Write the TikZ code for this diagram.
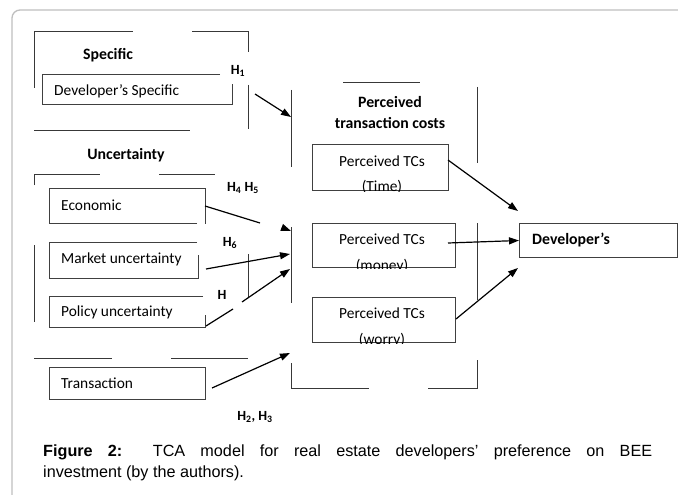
\documentclass[tikz,border=0pt]{standalone}
\usepackage{fontspec}
\setmainfont{Carlito}
\newfontfamily\capfont{Liberation Sans}
\usetikzlibrary{arrows.meta}
\begin{document}
\begin{tikzpicture}[x=1pt,y=-1pt,
  frame/.style={draw=black!78, line width=1pt},
  boxline/.style={draw=black!75, line width=1pt},
  arr/.style={draw=black, line width=1.2pt, -{Triangle[length=10pt,width=7pt]}},
  plain/.style={draw=black, line width=1.2pt},
  lbl/.style={font=\fontsize{15.4}{18}\selectfont, inner sep=0pt},
  hdr/.style={font=\bfseries\fontsize{15.8}{18}\selectfont, inner sep=0pt},
  hyp/.style={font=\bfseries\fontsize{14}{16}\selectfont, inner sep=0pt},
]
\useasboundingbox (0,0) rectangle (678,495);
\fill[white] (0,0) rectangle (678,495);
% outer frame
\draw[draw=black!25, line width=1.3pt, rounded corners=8pt] (12,520) -- (12,10) -- (700,10);

% ---- Specific group
\draw[frame] (34,88) -- (34,32) -- (133,32);
\draw[frame] (192,32) -- (248,32) -- (248,52);
\draw[frame] (248,85) -- (248,129);
\draw[frame] (34,130) -- (190,130);
\node[hdr] (spech) at (108,55) {Specific};
\draw[boxline] (220,75) -- (42,75) -- (42,105) -- (232,105) -- (232,84);
\node[lbl, anchor=west] (devspec) at (54,91) {Developer’s Specific};
\node[hyp] (h1) at (238,71) {H\textsubscript{1}};

% ---- Uncertainty group
\node[hdr] (unch) at (126,155) {Uncertainty};
\draw[frame] (34,185) -- (34,174) -- (100,174);
\draw[frame] (159,174) -- (215,174);
\node[hyp] (h45) at (243,188) {H\textsubscript{4} H\textsubscript{5}};
\draw[boxline] (197,223) -- (49,223) -- (49,188) -- (205,188) -- (205,224);
\node[lbl, anchor=west] (econ) at (61,205) {Economic};
\draw[boxline] (197,242) -- (49,242) -- (49,278) -- (198,278) -- (198,255);
\node[lbl, anchor=west] (market) at (61,259) {Market uncertainty};
\node[hyp] (h6) at (230,243) {H\textsubscript{6}};
\draw[boxline] (203,296) -- (49,296) -- (49,327) -- (205,327) -- (205,315);
\node[lbl, anchor=west] (policy) at (61,312) {Policy uncertainty};
\node[hyp] (h) at (222,295) {H};
\draw[frame] (34,245) -- (34,322);
\draw[frame] (248,254) -- (248,298);
\draw[frame] (34,358) -- (112,358);
\draw[frame] (171,358) -- (248,358);
\node[boxline, draw, minimum width=156pt, minimum height=32pt, anchor=north west, inner sep=0pt] (transbox) at (49,367) {};
\node[lbl, anchor=west] (trans) at (61,383) {Transaction};
\node[hyp] (h23) at (255,417) {H\textsubscript{2}, H\textsubscript{3}};

% ---- Perceived transaction costs group
\draw[frame] (291,90) -- (291,167);
\draw[frame] (291,227) -- (291,303);
\draw[frame] (343,83) -- (420,83);
\draw[frame] (477,87) -- (477,163);
\draw[frame] (477,223) -- (477,300);
\draw[frame] (291,363) -- (291,388) -- (369,388);
\draw[frame] (428,388) -- (477,388) -- (477,360);
\node[hdr] (ptch1) at (390,102) {Perceived};
\node[hdr] (ptch2) at (390,123) {transaction costs};

\node[boxline, draw, minimum width=136pt, minimum height=46pt, anchor=north west, inner sep=0pt] (time) at (312,144) {};
\node[boxline, draw, minimum width=143pt, minimum height=44pt, anchor=north west, inner sep=0pt] (money) at (312,223) {};
\node[boxline, draw, minimum width=143pt, minimum height=45pt, anchor=north west, inner sep=0pt] (worry) at (312,297) {};
\begin{scope}
\clip (time.south west) rectangle (time.north east);
\node[lbl, anchor=base] (timet1) at (382,166) {Perceived TCs};
\node[lbl, anchor=base] (timet2) at (382,191) {(Time)};
\end{scope}
\begin{scope}
\clip (money.south west) rectangle (money.north east);
\node[lbl, anchor=base] (moneyt1) at (382,244) {Perceived TCs};
\node[lbl, anchor=base] (moneyt2) at (382,270.5) {(money)};
\end{scope}
\begin{scope}
\clip (worry.south west) rectangle (worry.north east);
\node[lbl, anchor=base] (worryt1) at (382,318) {Perceived TCs};
\node[lbl, anchor=base] (worryt2) at (382,344.5) {(worry)};
\end{scope}

\node[boxline, draw, minimum width=158pt, minimum height=34pt, anchor=north west, inner sep=0pt] (dev) at (519,223) {};
\node[hdr, anchor=west] (devt) at (532,240) {Developer’s};

% ---- connectors
\coordinate (a1s) at (255,94);   \coordinate (a1e) at (291,117);
\draw[arr] (a1s) -- (a1e);
\coordinate (e1) at (205,206);   \coordinate (e2) at (260,223);
\draw[plain] (e1) -- (e2);
\coordinate (e3) at (282,227.5); \coordinate (e4) at (291,231);
\draw[arr] (e3) -- (e4);
\coordinate (m1) at (206,269);   \coordinate (m2) at (290,254);
\draw[arr] (m1) -- (m2);
\coordinate (p1) at (206,326);   \coordinate (p2) at (233,309);
\draw[plain] (p1) -- (p2);
\coordinate (p3) at (242,302);   \coordinate (p4) at (290,269);
\draw[arr] (p3) -- (p4);
\coordinate (t1) at (212,388);   \coordinate (t2) at (290,353);
\draw[arr] (t1) -- (t2);
\coordinate (ti) at (448,160);
\draw[arr] (ti) -- (518,211);
\coordinate (mo) at (448,243);
\draw[arr] (mo) -- (dev.west);
\draw[arr] (worry.east) ++(0,-1) -- (518,268);

% ---- caption
\node[anchor=north west, inner sep=0pt, text width=609pt, align=justify,
      font=\capfont\fontsize{16.2}{21}\selectfont] (cap) at (43,445)
  {\textbf{Figure 2:}\ \ TCA model for real estate developers’ preference on BEE\linebreak investment (by the authors).};
\end{tikzpicture}
\end{document}
